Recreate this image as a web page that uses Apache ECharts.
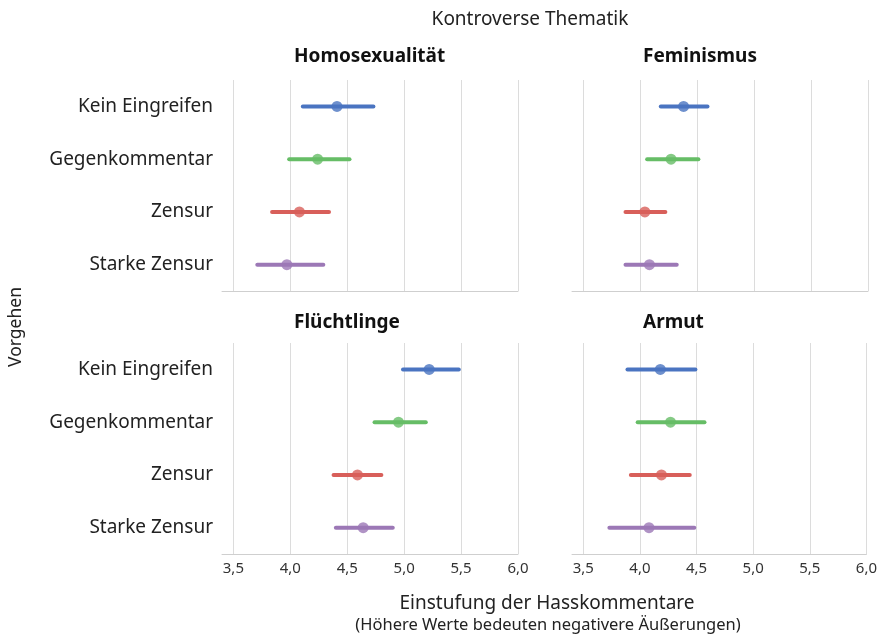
<!DOCTYPE html>
<html>
<head>
<meta charset="utf-8">
<script src="https://cdn.jsdelivr.net/npm/echarts@6/dist/echarts.min.js"></script>
<style>html,body{margin:0;padding:0;background:#fff}#c{width:880px;height:639px}</style>
</head>
<body>
<div id="c"></div>
<script>
// ---- data ----
const categories = ['Kein Eingreifen', 'Gegenkommentar', 'Zensur', 'Starke Zensur'];
const panelTitles = ['Homosexualität', 'Feminismus', 'Flüchtlinge', 'Armut'];
const xTicks = [3.5, 4.0, 4.5, 5.0, 5.5, 6.0];

const meanHomo = [4.41, 4.24, 4.08, 3.97];
const loHomo   = [4.11, 3.99, 3.84, 3.71];
const hiHomo   = [4.73, 4.52, 4.34, 4.29];

const meanFem = [4.38, 4.27, 4.04, 4.08];
const loFem   = [4.18, 4.06, 3.87, 3.87];
const hiFem   = [4.59, 4.51, 4.22, 4.32];

const meanFl = [5.22, 4.95, 4.59, 4.64];
const loFl   = [4.99, 4.74, 4.38, 4.40];
const hiFl   = [5.48, 5.19, 4.80, 4.90];

const meanArm = [4.18, 4.27, 4.19, 4.08];
const loArm   = [3.89, 3.98, 3.92, 3.73];
const hiArm   = [4.49, 4.57, 4.44, 4.48];

// ---- styles ----
const colors = ['#4a74c1', '#66bd66', '#d85f5a', '#9c78b6'];
const FONT = 'Noto Sans';
const panels = [
  { mean: meanHomo, lo: loHomo, hi: hiHomo },
  { mean: meanFem, lo: loFem, hi: hiFem },
  { mean: meanFl, lo: loFl, hi: hiFl },
  { mean: meanArm, lo: loArm, hi: hiArm }
];
const gridPos = [
  { left: 222, top: 80, width: 296, height: 211 },
  { left: 572, top: 80, width: 296, height: 211 },
  { left: 222, top: 343, width: 296, height: 211 },
  { left: 572, top: 343, width: 296, height: 211 }
];
const titlePos = [[294, 57], [643, 57], [294, 323], [643, 323]];

const grid = [], xAxis = [], yAxis = [], series = [], graphic = [];
gridPos.forEach((g, i) => {
  grid.push(Object.assign({}, g));
  xAxis.push({
    type: 'value', gridIndex: i, min: 3.4, max: 6.0,
    axisLine: { show: true, lineStyle: { color: '#cfcfcf', width: 1 } },
    axisTick: { show: false, customValues: xTicks },
    axisLabel: {
      show: i >= 2, customValues: xTicks, margin: 7,
      fontFamily: FONT, fontSize: 15, color: '#333',
      formatter: v => v.toFixed(1).replace('.', ',')
    },
    splitLine: { show: true, lineStyle: { color: '#dcdcdc', width: 1 } }
  });
  yAxis.push({
    type: 'category', gridIndex: i, data: categories, inverse: true,
    axisLine: { show: false }, axisTick: { show: false },
    axisLabel: { show: i % 2 === 0, margin: 9, fontFamily: FONT, fontSize: 19, color: '#222' },
    splitLine: { show: false }
  });
  const p = panels[i];
  series.push({
    type: 'custom', xAxisIndex: i, yAxisIndex: i,
    data: categories.map((c, k) => [p.lo[k], p.hi[k], k]),
    encode: { x: [0, 1], y: 2 },
    renderItem: (params, api) => {
      const a = api.coord([api.value(0), api.value(2)]);
      const b = api.coord([api.value(1), api.value(2)]);
      return {
        type: 'line',
        shape: { x1: a[0], y1: a[1], x2: b[0], y2: b[1] },
        style: { stroke: colors[params.dataIndex], lineWidth: 4, lineCap: 'round' }
      };
    },
    silent: true, z: 2
  });
  series.push({
    type: 'scatter', xAxisIndex: i, yAxisIndex: i, symbol: 'circle', symbolSize: 11,
    data: categories.map((c, k) => ({ value: [p.mean[k], k], itemStyle: { color: colors[k] } })),
    silent: true, z: 3
  });
  graphic.push({
    type: 'text', x: titlePos[i][0], y: titlePos[i][1],
    style: { text: panelTitles[i], font: 'bold 19px "Noto Sans"', fill: '#111', align: 'left', verticalAlign: 'middle' }
  });
});

graphic.push({ type: 'text', x: 530, y: 20,
  style: { text: 'Kontroverse Thematik', font: '19px "Noto Sans"', fill: '#222', align: 'center', verticalAlign: 'middle' } });
graphic.push({ type: 'text', x: 547, y: 604,
  style: { text: 'Einstufung der Hasskommentare', font: '19px "Noto Sans"', fill: '#222', align: 'center', verticalAlign: 'middle' } });
graphic.push({ type: 'text', x: 548, y: 625,
  style: { text: '(Höhere Werte bedeuten negativere Äußerungen)', font: '16.5px "Noto Sans"', fill: '#222', align: 'center', verticalAlign: 'middle' } });
graphic.push({ type: 'text', x: 16, y: 327, rotation: Math.PI / 2,
  style: { text: 'Vorgehen', font: '17.5px "Noto Sans"', fill: '#222', align: 'center', verticalAlign: 'middle' } });

const chart = echarts.init(document.getElementById('c'), null, { renderer: 'canvas' });
chart.setOption({
  animation: false,
  backgroundColor: '#fff',
  grid, xAxis, yAxis, series, graphic
});
</script>
</body>
</html>
